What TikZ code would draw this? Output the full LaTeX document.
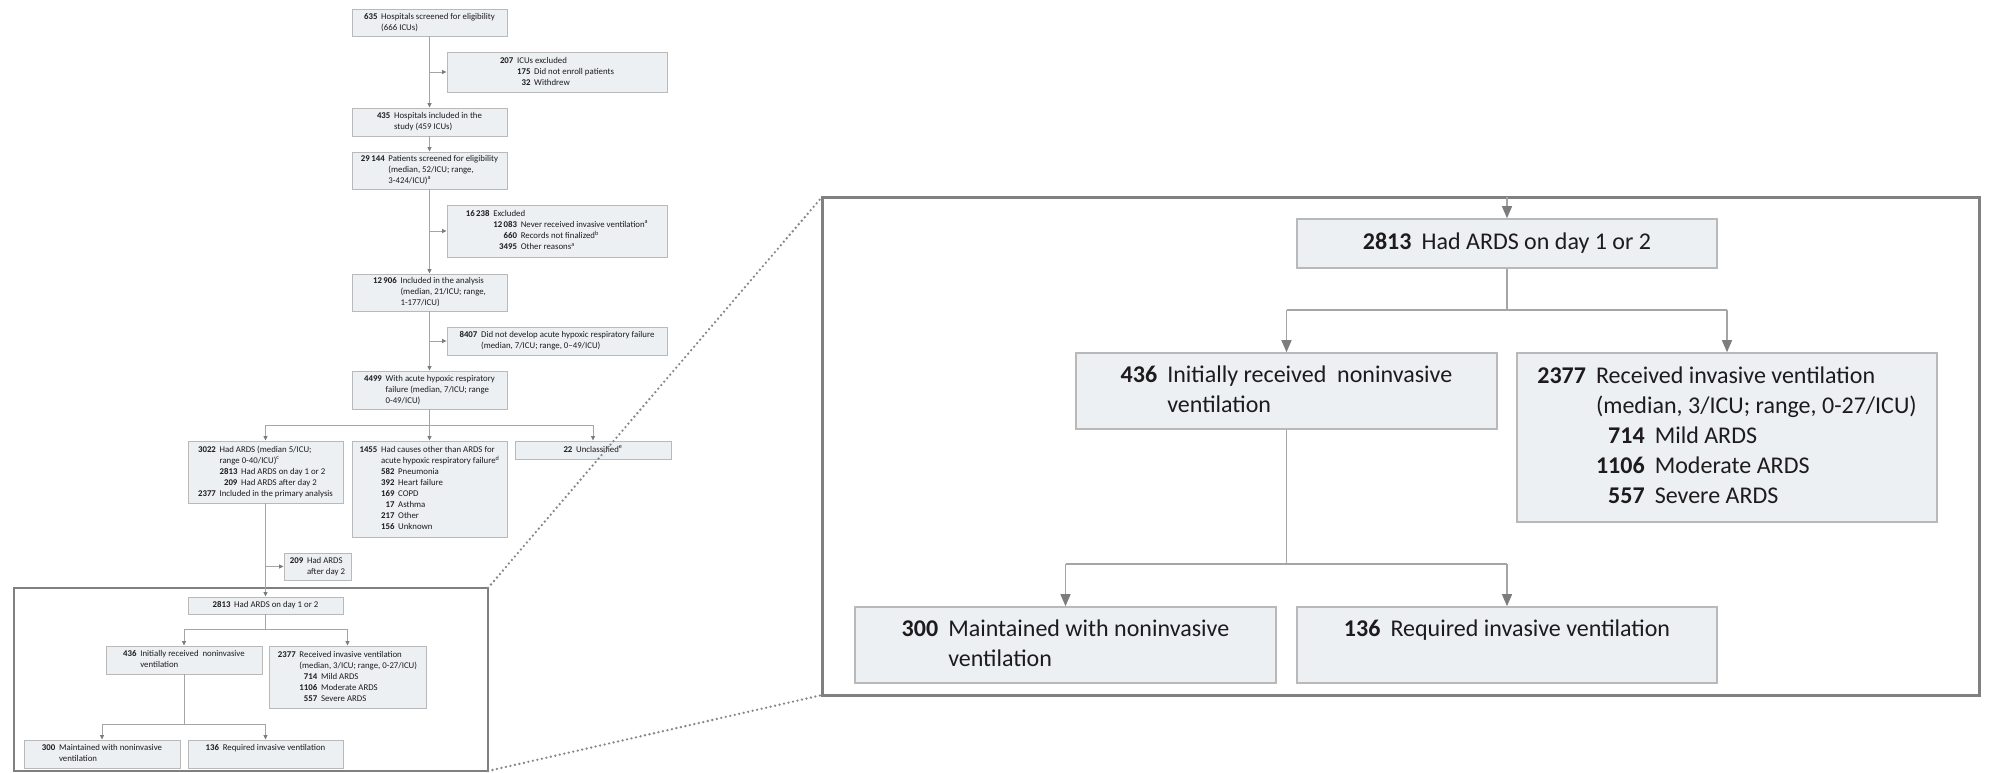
\documentclass[tikz,border=0pt]{standalone}
\usepackage{fontspec}
\setmainfont{Carlito}
\usetikzlibrary{arrows.meta}
\definecolor{boxfill}{RGB}{236,240,243}
\definecolor{boxline}{RGB}{185,185,185}
\definecolor{conn}{RGB}{165,165,165}
\definecolor{tipc}{RGB}{125,125,125}
\definecolor{framec}{RGB}{128,128,128}
\definecolor{dotc}{RGB}{135,135,135}
\definecolor{txt}{RGB}{30,27,28}
\newcommand{\fc}[1]{\begin{tabular}{@{}r@{\hspace{.42em}}r@{\hspace{.42em}}l@{}}#1\end{tabular}}
\newcommand{\mt}[1]{\multicolumn{2}{@{}l@{}}{#1}}
\newcommand{\nb}[1]{\textbf{#1}}
\newcommand{\sps}[1]{\textsuperscript{#1}}
\tikzset{
  sbox/.style={draw=boxline, fill=boxfill, line width=0.9pt, inner sep=0pt, font=\fontsize{8.8}{11}\selectfont, text=txt},
  gbox/.style={draw=boxline, fill=boxfill, line width=1.6pt, inner sep=0pt, font=\fontsize{24}{30}\selectfont, text=txt},
  sline/.style={draw=conn, line width=0.8pt},
  sarr/.style={sline, -{Triangle[width=4pt,length=4.5pt,color=tipc]}},
  gline/.style={draw=conn, line width=1.3pt},
  garr/.style={gline, -{Triangle[width=10pt,length=12pt,color=tipc]}},
  frm/.style={draw=framec, line width=2.5pt, inner sep=0pt, outer sep=0pt},
  zoomline/.style={draw=dotc, line width=2.6pt, dash pattern=on 0pt off 4.6pt, line cap=round},
}
\begin{document}
\begin{tikzpicture}[x=1pt,y=-1pt]
\useasboundingbox (0,0) rectangle (1990,773);
% ---------- left flowchart ----------
\node[sbox, minimum width=155, minimum height=27] (b635) at (429.5,22.5)
  {\fc{\nb{635} & \mt{Hospitals screened for eligibility}\\ & \mt{(666 ICUs)}}};
\node[sbox, minimum width=220, minimum height=40] (b207) at (557,72)
  {\fc{\nb{207} & \mt{ICUs excluded}\\ & \nb{175} & Did not enroll patients\\ & \nb{32} & Withdrew}};
\node[sbox, minimum width=155, minimum height=28] (b435) at (429.5,122)
  {\fc{\nb{435} & \mt{Hospitals included in the}\\ & \mt{study (459 ICUs)}}};
\node[sbox, minimum width=155, minimum height=37] (b29144) at (429.5,170.5)
  {\fc{\nb{29\,144} & \mt{Patients screened for eligibility}\\ & \mt{(median, 52/ICU; range,}\\ & \mt{3-424/ICU)\sps{a}}}};
\node[sbox, minimum width=220, minimum height=52] (b16238) at (557,231)
  {\fc{\nb{16\,238} & \mt{Excluded}\\ & \nb{12\,083} & Never received invasive ventilation\sps{a}\\ & \nb{660} & Records not finalized\sps{b}\\ & \nb{3495} & Other reasons\sps{a}}};
\node[sbox, minimum width=155, minimum height=37] (b12906) at (429.5,292.5)
  {\fc{\nb{12\,906} & \mt{Included in the analysis}\\ & \mt{(median, 21/ICU; range,}\\ & \mt{1-177/ICU)}}};
\node[sbox, minimum width=220, minimum height=28] (b8407) at (557,341)
  {\fc{\nb{8407} & \mt{Did not develop acute hypoxic respiratory failure}\\ & \mt{(median, 7/ICU; range, 0--49/ICU)}}};
\node[sbox, minimum width=155, minimum height=38] (b4499) at (429.5,390)
  {\fc{\nb{4499} & \mt{With acute hypoxic respiratory}\\ & \mt{failure (median, 7/ICU; range}\\ & \mt{0-49/ICU)}}};
\node[sbox, minimum width=155, minimum height=62] (b3022) at (265.5,472)
  {\fc{\nb{3022} & \mt{Had ARDS (median 5/ICU;}\\ & \mt{range 0-40/ICU)\sps{c}}\\ & \nb{2813} & Had ARDS on day 1 or 2\\ & \nb{209} & Had ARDS after day 2\\ \nb{2377} & \mt{Included in the primary analysis}}};
\node[sbox, minimum width=155, minimum height=96] (b1455) at (429.5,489)
  {\fc{\nb{1455} & \mt{Had causes other than ARDS for}\\ & \mt{acute hypoxic respiratory failure\sps{d}}\\ & \nb{582} & Pneumonia\\ & \nb{392} & Heart failure\\ & \nb{169} & COPD\\ & \nb{17} & Asthma\\ & \nb{217} & Other\\ & \nb{156} & Unknown}};
\node[sbox, minimum width=156, minimum height=18] (b22) at (593,450)
  {\fc{\nb{22} & \mt{Unclassified\sps{e}}}};
\node[sbox, minimum width=67, minimum height=27] (b209) at (317.5,566.5)
  {\fc{\nb{209} & \mt{Had ARDS}\\ & \mt{after day 2}}};
% small frame
\node[frm, minimum width=474, minimum height=183] (sframe) at (251,679.5) {};
\node[sbox, minimum width=155, minimum height=17] (s2813) at (265.5,605.5)
  {\fc{\nb{2813} & \mt{Had ARDS on day 1 or 2}}};
\node[sbox, minimum width=156, minimum height=28] (s436) at (184,660)
  {\fc{\nb{436} & \mt{Initially received\ \ noninvasive}\\ & \mt{ventilation}}};
\node[sbox, minimum width=157, minimum height=62] (s2377) at (347.5,677)
  {\fc{\nb{2377} & \mt{Received invasive ventilation}\\ & \mt{(median, 3/ICU; range, 0-27/ICU)}\\ & \nb{714} & Mild ARDS\\ & \nb{1106} & Moderate ARDS\\ & \nb{557} & Severe ARDS}};
\node[sbox, minimum width=156, minimum height=28] (s300) at (102,754)
  {\fc{\nb{300} & \mt{Maintained with noninvasive}\\ & \mt{ventilation}}};
\node[sbox, minimum width=155, minimum height=28] (s136) at (265.5,754)
  {\fc{\nb{136} & \mt{Required invasive ventilation}\\ & \mt{\mbox{}}}};
% left connectors
\draw[sarr] (b635.south) -- (b435.north);
\draw[sarr] (b635.south |- b207.west) -- (b207.west);
\draw[sarr] (b435.south) -- (b29144.north);
\draw[sarr] (b29144.south) -- (b12906.north);
\draw[sarr] (b29144.south |- b16238.west) -- (b16238.west);
\draw[sarr] (b12906.south) -- (b4499.north);
\draw[sarr] (b12906.south |- b8407.west) -- (b8407.west);
\coordinate (split1) at (429.5,425);
\draw[sline] (b4499.south) -- (split1);
\draw[sline] (b3022.north |- split1) -- (b22.north |- split1);
\draw[sarr] (b3022.north |- split1) -- (b3022.north);
\draw[sarr] (split1) -- (b1455.north);
\draw[sarr] (b22.north |- split1) -- (b22.north);
\draw[sarr] (b3022.south) -- (s2813.north);
\draw[sarr] (b3022.south |- b209.west) -- (b209.west);
\coordinate (split2) at (265.5,629);
\draw[sline] (s2813.south) -- (split2);
\draw[sline] (s436.north |- split2) -- (s2377.north |- split2);
\draw[sarr] (s436.north |- split2) -- (s436.north);
\draw[sarr] (s2377.north |- split2) -- (s2377.north);
\coordinate (split3) at (184,724);
\draw[sline] (s436.south) -- (split3);
\draw[sline] (s300.north |- split3) -- (s136.north |- split3);
\draw[sarr] (s300.north |- split3) -- (s300.north);
\draw[sarr] (s136.north |- split3) -- (s136.north);
% ---------- big frame ----------
\node[frm, line width=3pt, minimum width=1157, minimum height=498] (gframe) at (1400.5,446) {};
\node[gbox, minimum width=420, minimum height=49] (g2813) at (1507,243.5)
  {\fc{\nb{2813} & \mt{Had ARDS on day 1 or 2}}};
\node[gbox, minimum width=421, minimum height=76] (g436) at (1286.5,391)
  {\fc{\nb{436} & \mt{Initially received\ \ noninvasive}\\ & \mt{ventilation}}};
\node[gbox, minimum width=420, minimum height=169] (g2377) at (1727,437.5)
  {\fc{\nb{2377} & \mt{Received invasive ventilation}\\ & \mt{(median, 3/ICU; range, 0-27/ICU)}\\ & \nb{714} & Mild ARDS\\ & \nb{1106} & Moderate ARDS\\ & \nb{557} & Severe ARDS}};
\node[gbox, minimum width=421, minimum height=76] (g300) at (1065.5,645)
  {\fc{\nb{300} & \mt{Maintained with noninvasive}\\ & \mt{ventilation}}};
\node[gbox, minimum width=420, minimum height=76] (g136) at (1507,645)
  {\fc{\nb{136} & \mt{Required invasive ventilation}\\ & \mt{\mbox{}}}};
\coordinate (gin) at (1507,197);
\draw[garr] (gin) -- (g2813.north);
\coordinate (split4) at (1507,310);
\draw[gline] (g2813.south) -- (split4);
\draw[gline] (g436.north |- split4) -- (g2377.north |- split4);
\draw[garr] (g436.north |- split4) -- (g436.north);
\draw[garr] (g2377.north |- split4) -- (g2377.north);
\coordinate (split5) at (1286.5,564);
\draw[gline] (g436.south) -- (split5);
\draw[gline] (g300.north |- split5) -- (g136.north |- split5);
\draw[garr] (g300.north |- split5) -- (g300.north);
\draw[garr] (g136.north |- split5) -- (g136.north);
% zoom lines
\draw[zoomline] (sframe.north east) -- (gframe.north west);
\draw[zoomline] (sframe.south east) -- (gframe.south west);
\end{tikzpicture}
\end{document}
